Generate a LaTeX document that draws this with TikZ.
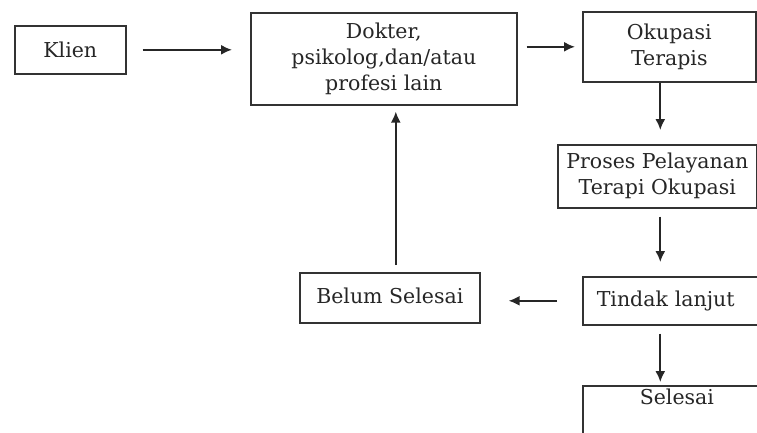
\documentclass[tikz,border=0pt]{standalone}
\usepackage{fontspec}
\setmainfont{DejaVu Serif}
\usetikzlibrary{arrows.meta}
\tikzset{
  kotak/.style={draw=black!80, line width=1.6pt, anchor=north west, align=center,
    inner sep=0pt, font=\fontsize{20.5}{26}\selectfont, text=black!85},
  panah/.style={line width=1.8pt, black!85, -{Latex[length=11pt,width=10pt]}}
}
\begin{document}
\begin{tikzpicture}[x=1pt,y=-1pt]
\useasboundingbox (0,0) rectangle (757,432);
\clip (0,0) rectangle (757,432);
% kotak-kotak
\node[kotak, minimum width=111pt, minimum height=48pt] (klien) at (14,25) {Klien};
\node[kotak, minimum width=266pt, minimum height=92pt] (dokter) at (250,12)
  {Dokter,\\psikolog,dan/atau\\profesi lain};
\node[kotak, minimum width=173pt, minimum height=70pt] (okupasi) at (582,11)
  {Okupasi\\Terapis};
\node[kotak, minimum width=199pt, minimum height=63pt] (proses) at (557,144)
  {Proses Pelayanan\\Terapi Okupasi};
\node[kotak, minimum width=180pt, minimum height=50pt] (belum) at (299,272)
  {\raisebox{4pt}{Belum Selesai}};
\node[kotak, text width=170pt, inner xsep=14pt, align=left, minimum height=48pt]
  (tindak) at (582,276) {Tindak lanjut};
\node[kotak, text width=144pt, inner xsep=57pt, align=left, inner ysep=4pt,
  text height=15pt, text depth=55pt] (selesai) at (582,385) {Selesai};
% panah
\draw[panah, shorten <=16pt, shorten >=18pt] (klien.east) -- (klien.east -| dokter.west);
\draw[panah, shorten <=9pt, shorten >=7pt] (okupasi.west -| dokter.east) -- (okupasi.west);
\draw[panah, shorten >=14pt] ([xshift=3pt]proses.north |- okupasi.south) -- ([xshift=3pt]proses.north);
\draw[panah, shorten <=8pt, shorten >=14pt] ([xshift=3pt]proses.south) -- ([xshift=3pt]proses.south |- tindak.north);
\draw[panah, shorten <=25pt, shorten >=28pt] (tindak.west) -- (tindak.west -| belum.east);
\draw[panah, shorten <=7pt, shorten >=6pt] ([xshift=6pt]belum.north) -- ([xshift=6pt]belum.north |- dokter.south);
\draw[panah, shorten <=8pt, shorten >=3pt] ([xshift=3pt]proses.south |- tindak.south) -- ([xshift=3pt]proses.south |- selesai.north);
\end{tikzpicture}
\end{document}
